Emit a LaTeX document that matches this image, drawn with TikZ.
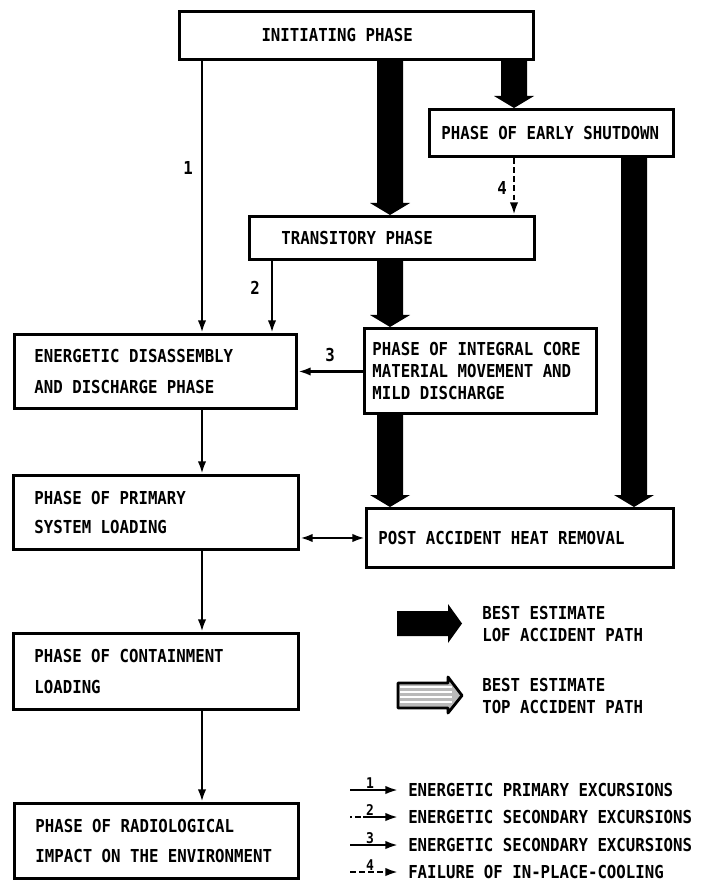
\documentclass[tikz,border=0pt]{standalone}
\usepackage{fontspec}
\setmonofont{DejaVu Sans Mono}[FakeStretch=0.88]
\usetikzlibrary{arrows.meta, calc}

% broad black accident-path arrow, drawn downwards from #1 to #2
\newcommand{\lofarrow}[2]{%
  \fill let \p1=(#1), \p2=(#2) in
    (\x1-0.325cm,\y1) -- (\x1+0.325cm,\y1) -- (\x1+0.325cm,\y2+0.3cm)
    -- (\x1+0.5cm,\y2+0.3cm) -- (\x1,\y2) -- (\x1-0.5cm,\y2+0.3cm)
    -- (\x1-0.325cm,\y2+0.3cm) -- cycle;}

\begin{document}
\begin{tikzpicture}[x=0.025cm, y=-0.025cm,
  phase/.style={draw, line width=2.1pt, anchor=north west, align=left, inner ysep=0pt,
                font=\ttfamily\bfseries\fontsize{12.7}{22}\selectfont,
                execute at begin node={\spaceskip=\fontdimen2\font\relax}},
  flow/.style={-{Latex[length=9pt,width=6pt]}, line width=1.9pt},
  num/.style={font=\ttfamily\bfseries\fontsize{12.7}{15}\selectfont, inner sep=0pt},
  legtxt/.style={anchor=west, align=left, inner xsep=0pt,
                 font=\ttfamily\bfseries\fontsize{12.7}{15.6}\selectfont},
  leg1/.style={},
  leg2/.style={dash pattern=on 1.5pt off 2pt on 4pt off 2pt on 60pt},
  leg3/.style={},
  leg4/.style={dash pattern=on 4pt off 2.5pt}
]
\useasboundingbox (0,0) rectangle (702,886);

% columns of the connectors
\coordinate (cleft) at (202,0);
\coordinate (ctwo)  at (272,0);
\coordinate (cmid)  at (390,0);
\coordinate (cesd)  at (514,0);
\coordinate (crt)   at (634,0);

% phases
\node[phase, text width=4.75cm, inner xsep=2.05cm, minimum height=1.2cm] (ini) at (178,10) {INITIATING PHASE};
\node[phase, text width=5.5cm, inner xsep=0.3cm, minimum height=1.175cm] (esd) at (428,108) {PHASE OF EARLY SHUTDOWN};
\node[phase, text width=5.525cm, inner xsep=0.8cm, minimum height=1.075cm] (trans) at (248,215) {TRANSITORY PHASE};
\node[phase, text width=6.05cm, inner xsep=0.5cm, minimum height=1.85cm] (eds) at (13,333) {ENERGETIC DISASSEMBLY\\AND DISCHARGE PHASE};
\node[phase, text width=5.4cm, inner xsep=0.2cm, minimum height=2.125cm,
      font=\ttfamily\bfseries\fontsize{12.7}{15.6}\selectfont] (icm) at (363,327)
      {PHASE OF INTEGRAL CORE\\MATERIAL MOVEMENT AND\\MILD DISCHARGE};
\node[phase, text width=6.075cm, inner xsep=0.525cm, minimum height=1.85cm,
      font=\ttfamily\bfseries\fontsize{12.7}{20.6}\selectfont] (psl) at (12,474) {PHASE OF PRIMARY\\SYSTEM LOADING};
\node[phase, text width=7.075cm, inner xsep=0.3cm, minimum height=1.475cm] (pahr) at (365,507) {POST ACCIDENT HEAT REMOVAL};
\node[phase, text width=6.075cm, inner xsep=0.525cm, minimum height=1.9cm] (pcl) at (12,632) {PHASE OF CONTAINMENT\\LOADING};
\node[phase, text width=6.05cm, inner xsep=0.525cm, minimum height=1.875cm] (pri) at (13,802) {PHASE OF RADIOLOGICAL\\IMPACT ON THE ENVIRONMENT};

% best estimate LOF path
\lofarrow{ini.south -| cmid}{trans.north -| cmid}
\lofarrow{ini.south -| cesd}{esd.north -| cesd}
\lofarrow{trans.south -| cmid}{icm.north -| cmid}
\lofarrow{icm.south -| cmid}{pahr.north -| cmid}
\lofarrow{esd.south -| crt}{pahr.north -| crt}

% excursions
\draw[flow] (ini.south -| cleft) -- (eds.north -| cleft);
\draw[flow] (trans.south -| ctwo) -- (eds.north -| ctwo);
\draw[flow] (icm.west |- eds.east) -- (eds.east);
\draw[flow, dash pattern=on 4pt off 2.5pt] (esd.south -| cesd) -- (trans.north -| cesd);
\node[num] (lab1) at (188,168) {1};
\node[num] (lab2) at (255,288) {2};
\node[num] (lab3) at (330,355) {3};
\node[num] (lab4) at (502,188) {4};

\draw[flow] (eds.south -| cleft) -- (psl.north -| cleft);
\draw[flow] (psl.south -| cleft) -- (pcl.north -| cleft);
\draw[flow] (pcl.south -| cleft) -- (pri.north -| cleft);
\draw[flow, {Latex[length=9pt,width=6pt]}-{Latex[length=9pt,width=6pt]}] (psl.east |- pahr.west) -- (pahr.west);

% legend
\fill (397,611) -- (448,611) -- (448,604) -- (462,623.5) -- (448,643) -- (448,636) -- (397,636) -- cycle;
\node[legtxt] (lof) at (482,624) {BEST ESTIMATE\\LOF ACCIDENT PATH};
\begin{scope}
  \clip (398,683) -- (448,683) -- (448,677) -- (462,695.5) -- (448,713) -- (448,708) -- (398,708) -- cycle;
  \fill[gray!55] (395,675) rectangle (465,715);
  \foreach \yy in {687,692,697,702}
    \draw[white, line width=1pt] (400,\yy) -- (452,\yy);
\end{scope}
\draw[line width=2pt, line join=round] (398,683) -- (448,683) -- (448,677) -- (462,695.5) -- (448,713) -- (448,708) -- (398,708) -- cycle;
\node[legtxt] (top) at (482,696) {BEST ESTIMATE\\TOP ACCIDENT PATH};

\foreach \n/\yy/\txt in {1/790/ENERGETIC PRIMARY EXCURSIONS,
                         2/817/ENERGETIC SECONDARY EXCURSIONS,
                         3/845/ENERGETIC SECONDARY EXCURSIONS,
                         4/872/FAILURE OF IN-PLACE-COOLING}{
  \node[legtxt] (key\n) at (408,\yy) {\txt};
  \coordinate (keystart\n) at (350,\yy);
  \draw[flow, line width=1.6pt, leg\n, shorten >=0.25cm] (keystart\n) -- (key\n.west);
  \node[num, font=\ttfamily\bfseries\fontsize{10.5}{12}\selectfont] (keynum\n) at (370,\yy-7) {\n};
}
\end{tikzpicture}
\end{document}
